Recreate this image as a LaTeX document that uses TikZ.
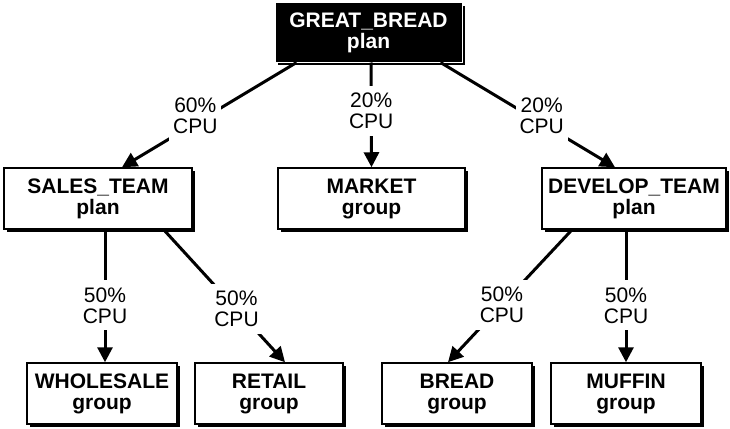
\documentclass[tikz,border=0pt]{standalone}
\usepackage{fontspec}
\setmainfont{Liberation Sans}
\usetikzlibrary{arrows.meta,shadows}

\begin{document}
\begin{tikzpicture}[x=1pt,y=1pt,
  box/.style={draw=black,line width=1.5pt,fill=white,minimum height=61pt,inner sep=0pt,align=center,
    font=\bfseries\fontsize{21}{21}\selectfont,
    drop shadow={shadow xshift=3pt,shadow yshift=-3pt,fill=black,opacity=1}},
  planbox/.style={box,fill=black,draw=white,text=white,line width=1pt,minimum height=59pt},
  conn/.style={line width=3pt,-{Triangle[length=15pt,width=15pt]}},
  pct/.style={fill=white,align=center,inner xsep=4pt,inner ysep=7pt,font=\fontsize{21}{21}\selectfont}]
\useasboundingbox (0,0) rectangle (730,-428);

\node[planbox,minimum width=187pt] (great) at (368.5,-32.5) {GREAT\_BREAD\\plan};
\node[box,minimum width=188pt] (sales) at (98,-198.5) {SALES\_TEAM\\plan};
\node[box,minimum width=187pt] (market) at (371.5,-198.5) {MARKET\\group};
\node[box,minimum width=184pt] (develop) at (634,-198.5) {DEVELOP\_TEAM\\plan};
\node[box,minimum width=150pt] (wholesale) at (102,-393.5) {WHOLESALE\\group};
\node[box,minimum width=148pt] (retail) at (269,-393.5) {RETAIL\\group};
\node[box,minimum width=150pt] (bread) at (457,-393.5) {BREAD\\group};
\node[box,minimum width=150pt] (muffin) at (626,-393.5) {MUFFIN\\group};

\draw[conn] ([xshift=22pt]great.south west) -- node[pct,pos=.58,yshift=7pt] {60\%\\CPU} ([xshift=24pt]sales.north);
\draw[conn] ([xshift=2.5pt]great.south) -- node[pct,pos=.46] {20\%\\CPU} (market.north);
\draw[conn] ([xshift=-22pt]great.south east) -- node[pct,pos=.58,yshift=7pt] {20\%\\CPU} ([xshift=-19pt]develop.north);

\draw[conn] ([xshift=7pt]sales.south) -- node[pct,pos=.57] {50\%\\CPU} ([xshift=3pt]wholesale.north);
\draw[conn] ([xshift=-29pt]sales.south east) -- node[pct,pos=.6] {50\%\\CPU} ([xshift=16pt]retail.north);
\draw[conn] ([xshift=-62pt]develop.south) -- node[pct,pos=.565] {50\%\\CPU} ([xshift=-9pt]bread.north);
\draw[conn] ([xshift=-8pt]develop.south) -- node[pct,pos=.57] {50\%\\CPU} (muffin.north);
\end{tikzpicture}
\end{document}
